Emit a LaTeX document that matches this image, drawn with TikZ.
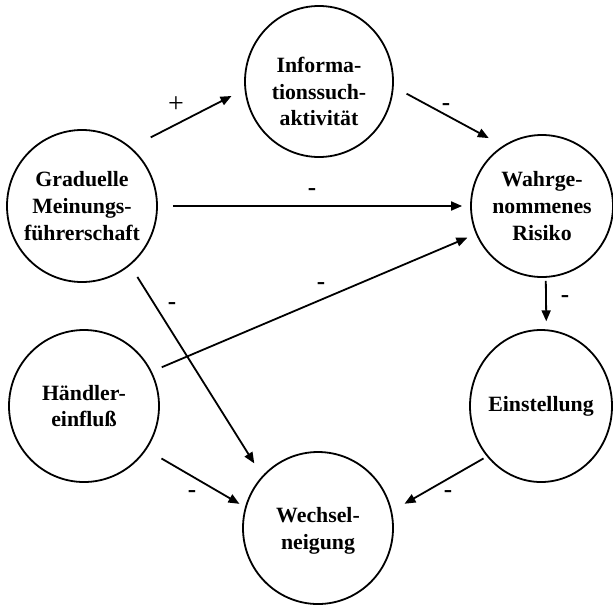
\documentclass[tikz,border=0pt]{standalone}
\usepackage{fontspec}
\setmainfont{Liberation Serif}
\usetikzlibrary{shapes.geometric,arrows.meta}

\tikzset{
  bubble/.style={ellipse, draw, line width=0.9pt, inner xsep=-4pt, inner ysep=0pt,
    align=center, font=\fontsize{10.9}{13.3}\selectfont\bfseries},
  pfeil/.style={line width=0.9pt, -{Triangle[length=5.5pt,width=4.5pt]}},
  zeichen/.style={inner sep=0pt, font=\fontsize{12.5}{14}\selectfont\bfseries}
}

\begin{document}
\begin{tikzpicture}[x=0.5pt, y=-0.5pt]

\useasboundingbox (0,0) rectangle (613,605);

\node[bubble, minimum width=74pt, minimum height=75.5pt] (info) at (319,81.5) {\rule{0pt}{18pt}Informa-\\tionssuch-\\aktivität};
\node[bubble, minimum width=75pt, minimum height=76pt] (grad) at (82,206) {Graduelle\\Meinungs-\\führerschaft};
\node[bubble, minimum width=71pt, minimum height=71pt] (risk) at (542,206) {Wahrge-\\nommenes\\Risiko};
\node[bubble, minimum width=75pt, minimum height=76pt] (haendler) at (84,406) {Händler-\\einfluß};
\node[bubble, minimum width=71pt, minimum height=76pt] (einst) at (541,406) {Einstellung};
\node[bubble, minimum width=75pt, minimum height=76pt] (wechsel) at (318,528) {\rule{0pt}{10.5pt}Wechsel-\\neigung};

\draw[pfeil, shorten <=11pt, shorten >=7.3pt] (grad.50) -- (info.186);
\draw[pfeil, shorten <=7.3pt, shorten >=8pt] (info.356) -- (risk.123);
\draw[pfeil, shorten <=7.5pt, shorten >=4pt] (grad) -- (risk);
\draw[pfeil, shorten <=5.4pt, shorten >=4.6pt] (haendler.27) -- (risk.203);
\draw[pfeil, shorten <=6.8pt, shorten >=7.4pt] (grad.309) -- (wechsel.137);
\draw[pfeil, shorten <=8.7pt, shorten >=3.2pt] (haendler.325) -- (wechsel.164);
\draw[pfeil, shorten <=1.9pt, shorten >=7.2pt] (einst.223) -- (wechsel.13);
\draw[pfeil, shorten <=1.5pt, shorten >=4pt] (risk.273) -- (einst.86);

\node[zeichen, font=\fontsize{14}{16}\selectfont] (plus) at (176,105) {+};
\node[zeichen] (m1) at (446,107) {-};
\node[zeichen] (m2) at (312,192) {-};
\node[zeichen] (m3) at (321,286) {-};
\node[zeichen] (m4) at (172,306) {-};
\node[zeichen] (m5) at (565,299) {-};
\node[zeichen] (m6) at (192,494) {-};
\node[zeichen] (m7) at (448,494) {-};

\end{tikzpicture}
\end{document}
